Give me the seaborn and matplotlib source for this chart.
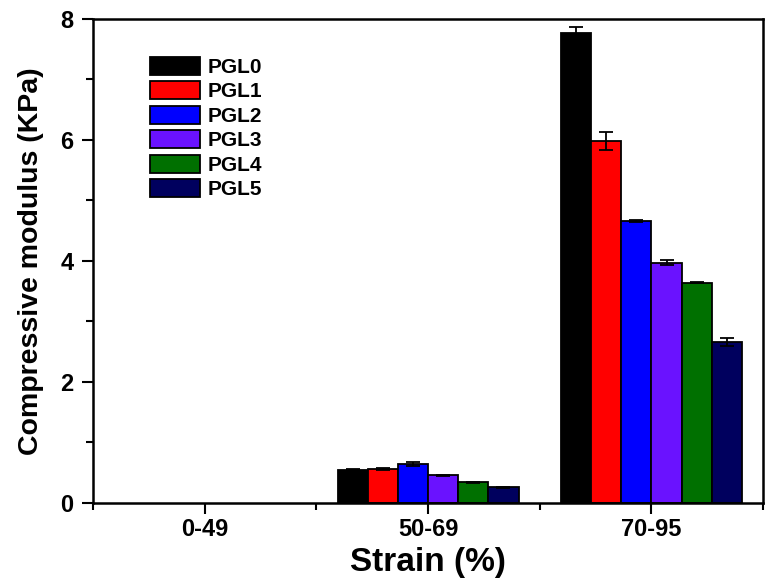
import numpy as np
import pandas as pd
import matplotlib
matplotlib.use("Agg")
import matplotlib.pyplot as plt
from matplotlib.ticker import MultipleLocator
import seaborn as sns

strains = ["0-49", "50-69", "70-95"]
samples = ["PGL0", "PGL1", "PGL2", "PGL3", "PGL4", "PGL5"]
colors = ["#000000", "#ff0000", "#0000ff", "#6a12ff", "#007000", "#00005e"]

# modulus per sample for each strain range (0-49 has no bars)
mod_050_069 = [0.55, 0.56, 0.64, 0.46, 0.34, 0.26]
mod_070_095 = [7.77, 5.98, 4.66, 3.97, 3.64, 2.66]
err_050_069 = [0.01, 0.01, 0.03, 0.01, 0.01, 0.01]
err_070_095 = [0.10, 0.15, 0.02, 0.04, 0.01, 0.07]

rows = []
for i, s in enumerate(samples):
    rows.append(("0-49", s, np.nan))
    rows.append(("50-69", s, mod_050_069[i]))
    rows.append(("70-95", s, mod_070_095[i]))
df = pd.DataFrame(rows, columns=["strain", "sample", "modulus"])

sns.set_style("ticks")
plt.rcParams["font.family"] = ["Liberation Sans", "DejaVu Sans"]
plt.rcParams["font.weight"] = "bold"
for k in ["text.color", "axes.labelcolor", "xtick.color", "ytick.color", "axes.edgecolor"]:
    plt.rcParams[k] = "black"

fig = plt.figure(figsize=(7.74, 5.88), dpi=100)
ax = fig.add_axes([0.120, 0.1446, 0.866, 0.8234])

sns.barplot(data=df, x="strain", y="modulus", hue="sample", order=strains,
            hue_order=samples, palette=colors, width=0.81, errorbar=None,
            edgecolor="black", linewidth=1.3, saturation=1, ax=ax)

# error bars on top of each drawn bar
errs = {s: [err_050_069[i], err_070_095[i]] for i, s in enumerate(samples)}
for cont, s in zip(ax.containers, samples):
    xs = [b.get_x() + b.get_width() / 2 for b in cont]
    ys = [b.get_height() for b in cont]
    xs = [x for x, y in zip(xs, ys) if np.isfinite(y) and y > 0]
    ys = [y for y in ys if np.isfinite(y) and y > 0]
    ax.errorbar(xs, ys, yerr=errs[s][-len(ys):], fmt="none", ecolor="black",
                elinewidth=1.3, capsize=5, capthick=1.3)

ax.set_xlim(-0.5, 2.5)
ax.set_ylim(0, 8)
ax.yaxis.set_major_locator(MultipleLocator(2))
ax.yaxis.set_minor_locator(MultipleLocator(1))
ax.set_xticks([0.5, 1.5, -0.5, 2.5], minor=True)
for sp in ax.spines.values():
    sp.set_visible(True)
    sp.set_linewidth(1.8)
ax.tick_params(axis="both", which="major", direction="out", length=8, width=1.5,
               labelsize=17, pad=6)
ax.tick_params(axis="both", which="minor", direction="out", length=5, width=1.5)
ax.tick_params(axis="x", which="major", pad=3)
for lab in ax.get_xticklabels() + ax.get_yticklabels():
    lab.set_fontweight("bold")

ax.set_xlabel("Strain (%)", fontsize=24, fontweight="bold", labelpad=4)
ax.set_ylabel("Compressive modulus (KPa)", fontsize=20.5, fontweight="bold", labelpad=12)

h, l = ax.get_legend_handles_labels()
for hh in h:
    hh.set_edgecolor("black")
    hh.set_linewidth(1.3)
ax.legend(h, l, loc="upper left", bbox_to_anchor=(0.085, 0.922), frameon=False,
          prop={"weight": "bold", "size": 15}, handlelength=2.4, handleheight=0.95,
          labelspacing=0.21, handletextpad=0.35, borderpad=0, borderaxespad=0)

fig.savefig("out.png", dpi=100)
